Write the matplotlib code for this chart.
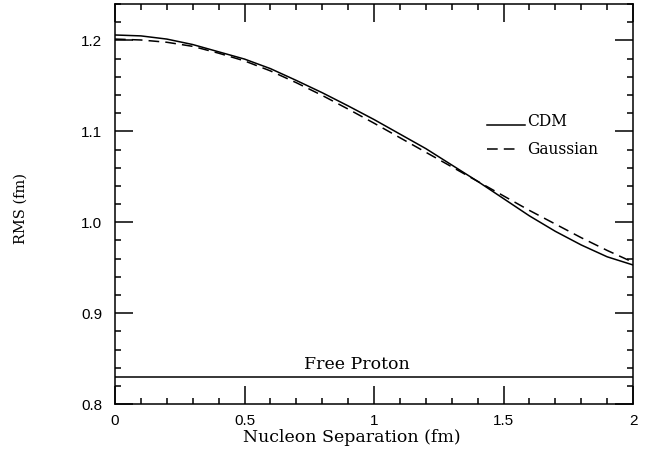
import numpy as np
import matplotlib
matplotlib.use("Agg")
import matplotlib.pyplot as plt
from matplotlib.ticker import MultipleLocator

##### DATA #####
sep = [0.0, 0.1, 0.2, 0.3, 0.4, 0.5, 0.6, 0.7, 0.8, 0.9, 1.0,
       1.1, 1.2, 1.3, 1.4, 1.5, 1.6, 1.7, 1.8, 1.9, 2.0]
rms_cdm = [1.206, 1.205, 1.2015, 1.1955, 1.1875, 1.1795, 1.169, 1.156, 1.1425, 1.128, 1.113,
           1.097, 1.081, 1.063, 1.045, 1.026, 1.007, 0.990, 0.975, 0.962, 0.953]
rms_gauss = [1.2015, 1.2005, 1.198, 1.1935, 1.186, 1.1775, 1.1665, 1.1535, 1.1395, 1.1245, 1.109,
             1.093, 1.077, 1.061, 1.045, 1.029, 1.013, 0.998, 0.983, 0.969, 0.956]
free_proton = 0.83

xticks = [0, 0.5, 1, 1.5, 2]
xtick_labels = ["0", "0.5", "1", "1.5", "2"]
yticks = [0.8, 0.9, 1.0, 1.1, 1.2]
ytick_labels = ["0.8", "0.9", "1.0", "1.1", "1.2"]

serif = "DejaVu Serif"

##### FIGURE #####
fig = plt.figure(figsize=(6.46, 4.53), dpi=100)
ax = fig.add_axes([0.178, 0.108, 0.802, 0.883])

ax.plot(sep, rms_cdm, color="black", lw=1.1)
ax.plot(sep, rms_gauss, color="black", lw=1.1, dashes=(7, 4))
ax.axhline(free_proton, color="black", lw=1.1)

ax.text(0.934, 0.8435, "Free Proton", ha="center", va="center", family=serif, size=12.5)

# hand made legend like the original
ax.plot([1.436, 1.583], [1.1066, 1.1066], color="black", lw=1.1)
ax.text(1.591, 1.1113, "CDM", ha="left", va="center", family=serif, size=11.2)
ax.plot([1.436, 1.56], [1.0802, 1.0802], color="black", lw=1.1, dashes=(7, 4))
ax.text(1.591, 1.0802, "Gaussian", ha="left", va="center", family=serif, size=11.2)

ax.set_xlim(0, 2)
ax.set_ylim(0.8, 1.24)
ax.xaxis.set_minor_locator(MultipleLocator(0.1))
ax.yaxis.set_minor_locator(MultipleLocator(0.02))
ax.set_xticks(xticks)
ax.set_xticklabels(xtick_labels)
ax.set_yticks(yticks)
ax.set_yticklabels(ytick_labels)

ax.tick_params(which="both", direction="in", top=True, right=True, width=1.1)
ax.tick_params(which="major", length=13)
ax.tick_params(which="minor", length=4.5)
ax.tick_params(axis="x", which="major", pad=7.5)
ax.tick_params(axis="y", which="major", pad=9)
for lab in ax.get_xticklabels() + ax.get_yticklabels():
    lab.set_family("Liberation Sans")
    lab.set_fontsize(11)
for sp in ax.spines.values():
    sp.set_linewidth(1.1)

ax.set_xlabel("Nucleon Separation (fm)", family=serif, size=12.5)
ax.xaxis.set_label_coords(0.4575, -0.062)
ax.set_ylabel("RMS (fm)", family=serif, size=10.5)
ax.yaxis.set_label_coords(-0.168, 0.49)

fig.savefig("out.png", dpi=100)
plt.close(fig)
